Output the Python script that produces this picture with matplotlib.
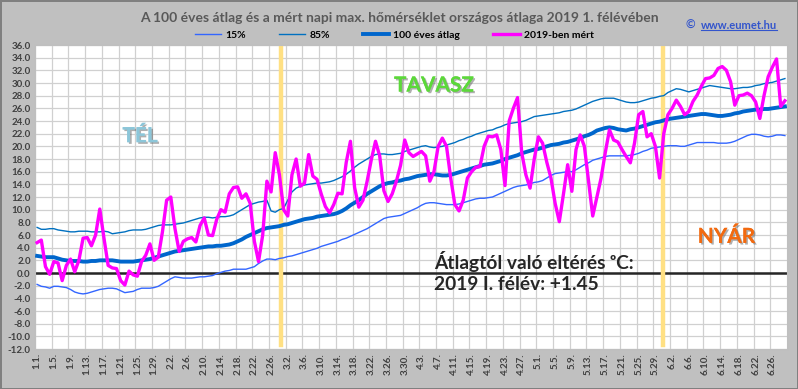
import pandas as pd
import matplotlib
matplotlib.use("Agg")
import matplotlib.pyplot as plt
import matplotlib.patheffects as pe

# daily values, 2019-01-01 .. 2019-06-29
days = pd.date_range("2019-01-01", periods=180, freq="D")
day_labels = [f"{d.month}.{d.day}." for d in days]

p15 = [
    -1.8, -2.1, -2.2, -2.4, -2.1, -2.1, -2.2, -2.3, -2.6, -3.0,
    -3.2, -3.3, -3.2, -3.0, -2.8, -2.6, -2.5, -2.4, -2.4, -2.5,
    -2.8, -3.1, -3.0, -2.9, -2.6, -2.4, -2.4, -2.4, -2.3, -2.1,
    -1.7, -1.3, -0.9, -0.6, -0.7, -0.8, -0.8, -0.8, -0.7, -0.6,
    -0.6, -0.5, -0.4, -0.1, 0.1, 0.3, 0.4, 0.6, 0.6, 0.6,
    0.6, 0.8, 1.0, 1.5, 1.9, 2.2, 2.2, 2.1, 2.3, 2.4,
    2.6, 2.7, 2.9, 3.1, 3.3, 3.5, 3.7, 3.9, 4.2, 4.4,
    4.6, 4.8, 5.0, 5.3, 5.5, 5.8, 6.1, 6.4, 6.7, 7.0,
    7.4, 7.8, 8.2, 8.6, 8.8, 8.9, 9.0, 9.1, 9.4, 9.7,
    10.0, 10.3, 10.7, 11.0, 11.1, 11.1, 11.0, 10.9, 10.8, 10.8,
    10.8, 10.9, 11.1, 11.3, 11.5, 11.7, 11.8, 11.8, 11.9, 12.0,
    12.3, 12.6, 12.9, 13.2, 13.5, 13.7, 13.8, 13.9, 14.1, 14.3,
    14.4, 14.6, 15.0, 15.4, 15.7, 15.8, 15.9, 16.0, 16.0, 16.3,
    16.7, 17.1, 17.4, 17.8, 18.0, 18.2, 18.4, 18.5, 18.5, 18.5,
    18.5, 18.5, 18.6, 18.7, 18.9, 19.2, 19.4, 19.7, 19.8, 19.9,
    20.0, 20.1, 20.1, 20.1, 20.0, 20.0, 20.2, 20.4, 20.6, 20.6,
    20.6, 20.6, 20.6, 20.5, 20.5, 20.5, 20.6, 20.8, 21.1, 21.4,
    21.7, 21.9, 21.9, 21.8, 21.6, 21.5, 21.6, 21.8, 21.8, 21.7,
]

p85 = [
    7.2, 6.9, 6.9, 7.0, 7.0, 6.8, 6.7, 6.6, 6.5, 6.5,
    6.6, 6.6, 6.6, 6.5, 6.5, 6.5, 6.6, 6.5, 6.2, 6.3,
    6.4, 6.5, 6.7, 6.8, 6.8, 6.8, 6.9, 7.1, 7.3, 7.5,
    7.6, 7.6, 7.6, 7.7, 7.8, 7.9, 8.1, 8.3, 8.5, 8.7,
    8.8, 8.8, 8.7, 8.8, 8.9, 8.9, 9.0, 9.2, 9.6, 10.0,
    10.4, 10.8, 11.0, 11.2, 11.3, 11.5, 9.8, 9.6, 10.0, 10.2,
    11.5, 12.8, 13.4, 13.7, 13.9, 14.0, 14.1, 14.2, 14.2, 14.3,
    14.4, 14.6, 14.9, 15.2, 15.6, 16.1, 16.7, 17.2, 17.6, 18.0,
    18.4, 18.7, 18.8, 18.8, 18.7, 18.7, 18.8, 18.9, 19.2, 19.4,
    19.6, 19.8, 20.0, 20.1, 19.9, 19.8, 19.9, 20.0, 20.2, 20.4,
    20.6, 20.9, 21.1, 21.4, 21.6, 21.9, 22.1, 22.3, 22.5, 22.6,
    22.9, 23.1, 23.4, 23.6, 23.7, 23.8, 23.9, 24.1, 24.4, 24.7,
    24.8, 24.9, 25.0, 25.1, 25.2, 25.3, 25.5, 25.6, 25.7, 25.9,
    26.2, 26.5, 26.8, 27.1, 27.3, 27.5, 27.6, 27.6, 27.6, 27.4,
    27.2, 27.0, 26.9, 26.9, 27.0, 27.2, 27.4, 27.6, 27.7, 27.9,
    28.0, 28.5, 28.8, 29.1, 29.0, 28.8, 28.6, 28.8, 29.0, 29.2,
    29.4, 29.6, 29.5, 29.4, 29.3, 29.2, 29.1, 29.1, 29.2, 29.3,
    29.3, 29.4, 29.6, 29.7, 29.9, 30.0, 30.1, 30.3, 30.5, 30.7,
]

avg100 = [
    2.7, 2.6, 2.5, 2.5, 2.5, 2.3, 2.1, 2.0, 1.9, 1.9,
    1.9, 1.8, 1.8, 1.9, 1.9, 2.0, 2.0, 2.0, 2.0, 1.9,
    1.8, 1.8, 1.8, 1.8, 1.9, 2.0, 2.1, 2.2, 2.4, 2.6,
    2.8, 3.0, 3.2, 3.4, 3.5, 3.6, 3.7, 3.8, 3.9, 4.0,
    4.1, 4.2, 4.2, 4.3, 4.3, 4.4, 4.5, 4.7, 5.0, 5.3,
    5.7, 6.0, 6.3, 6.6, 6.9, 7.1, 7.2, 7.3, 7.4, 7.6,
    7.7, 7.9, 8.1, 8.3, 8.5, 8.6, 8.7, 8.9, 9.0, 9.1,
    9.2, 9.3, 9.5, 9.8, 10.2, 10.7, 11.1, 11.5, 12.0, 12.5,
    12.9, 13.3, 13.7, 14.0, 14.2, 14.3, 14.5, 14.6, 14.8, 14.9,
    15.1, 15.3, 15.4, 15.5, 15.6, 15.6, 15.5, 15.4, 15.4, 15.5,
    15.7, 15.9, 16.1, 16.3, 16.5, 16.7, 16.9, 17.1, 17.2, 17.3,
    17.5, 17.7, 18.0, 18.2, 18.4, 18.6, 18.9, 19.1, 19.3, 19.5,
    19.6, 19.8, 20.0, 20.2, 20.3, 20.4, 20.6, 20.7, 20.9, 21.1,
    21.3, 21.6, 21.8, 22.1, 22.5, 22.7, 22.9, 23.0, 22.9, 22.7,
    22.6, 22.5, 22.7, 22.8, 23.0, 23.2, 23.4, 23.6, 23.8, 23.9,
    24.1, 24.3, 24.4, 24.5, 24.6, 24.7, 24.8, 24.9, 25.0, 25.1,
    25.1, 25.0, 24.9, 24.8, 24.8, 24.9, 25.0, 25.2, 25.3, 25.5,
    25.6, 25.7, 25.8, 25.8, 25.9, 25.9, 26.0, 26.1, 26.2, 26.3,
]

measured_2019 = [
    4.8, 5.2, 1.0, -0.2, 1.8, 1.6, -1.2, 1.2, 2.2, 0.2,
    2.0, 5.5, 5.6, 4.3, 6.0, 10.1, 5.5, 1.2, 0.8, 0.7,
    -1.2, -1.9, 0.3, -0.3, -0.5, 1.8, 2.8, 4.6, 2.0, 2.5,
    6.5, 11.5, 12.0, 7.0, 3.4, 5.0, 5.4, 5.6, 4.9, 7.5,
    8.7, 6.0, 5.9, 8.5, 10.0, 9.6, 12.5, 13.5, 13.6, 11.8,
    12.5, 11.0, 5.0, 1.8, 6.0, 14.5, 12.8, 19.0, 15.5, 10.0,
    9.0, 15.5, 18.0, 13.7, 14.2, 18.7, 15.3, 14.8, 12.5, 10.5,
    9.5, 10.8, 12.6, 12.5, 17.5, 20.8, 13.5, 10.4, 11.5, 14.5,
    17.9, 20.8, 18.5, 13.0, 11.3, 12.5, 14.5, 17.0, 21.0, 19.0,
    18.4, 18.8, 19.2, 18.5, 14.5, 16.0, 20.0, 21.3, 20.0, 15.0,
    10.8, 9.8, 11.5, 15.0, 16.0, 16.7, 16.8, 20.0, 21.6, 21.5,
    21.8, 19.5, 13.8, 24.0, 26.0, 27.7, 19.0, 15.5, 13.4, 18.0,
    21.5, 20.5, 17.5, 15.0, 11.0, 8.1, 12.5, 17.1, 12.9, 19.5,
    21.8, 20.0, 14.5, 9.0, 12.0, 15.0, 19.0, 22.6, 21.0, 20.7,
    19.5, 18.4, 17.4, 20.5, 25.0, 25.5, 21.5, 22.0, 20.0, 15.0,
    22.0, 25.0, 26.0, 27.3, 26.3, 25.0, 25.5, 27.1, 28.1, 29.5,
    30.7, 30.8, 31.2, 32.3, 32.6, 32.0, 30.2, 26.5, 28.0, 28.1,
    28.4, 28.0, 27.0, 24.4, 28.0, 31.0, 32.5, 33.8, 26.3, 27.2,
]

FONT = ["Lato", "DejaVu Sans"]
plt.rcParams["font.family"] = FONT

fig = plt.figure(figsize=(7.98, 3.89), dpi=100, facecolor="#C0C0C0",
                 edgecolor="#808080", linewidth=2)
ax = fig.add_axes([0.0439, 0.1028, 0.9423, 0.7815])
ax.set_facecolor("white")

x = list(range(len(days)))

ax.plot(x, p15, color="#3366FF", lw=1.0, label="15%", zorder=3)
ax.plot(x, p85, color="#0070C0", lw=1.0, label="85%", zorder=3)
ax.plot(x, avg100, color="#0066CC", lw=2.8, label="100 éves átlag", zorder=4,
        solid_joinstyle="round")
ax.plot(x, measured_2019, color="#FF00FF", lw=2.4, label="2019-ben mért",
        zorder=5, solid_joinstyle="round")

ax.axhline(0, color="#262626", lw=1.8, zorder=2)
for pos in (58.3, 149.9):
    ax.axvline(pos, ymin=0.012, ymax=1.0, color="#FFE083", lw=3.2, zorder=2)

ax.set_xlim(-0.5, len(days) - 0.5)
ax.set_ylim(-12, 36)
ax.set_yticks(range(-12, 37, 2))
ax.set_yticklabels([f"{v:.1f}" for v in range(-12, 37, 2)])
ax.set_xticks(x[::4])
ax.set_xticklabels(day_labels[::4], rotation=90)
ax.set_xticks([i - 0.5 for i in x[::4]], minor=True)
ax.tick_params(axis="both", which="both", length=0, labelsize=7,
               labelcolor="#404040", pad=3)
for lab in ax.get_xticklabels() + ax.get_yticklabels():
    lab.set_fontweight("bold")
ax.grid(axis="y", which="major", color="#D0D0D0", lw=0.9)
ax.grid(axis="x", which="minor", color="#D0D0D0", lw=0.9)
ax.set_axisbelow(True)
for sp in ax.spines.values():
    sp.set_color("#BFBFBF")

fig.text(0.5, 0.955,
         "A 100 éves átlag és a mért napi max. hőmérséklet országos átlaga 2019 1. félévében",
         ha="center", va="center", fontsize=10, fontweight="bold", color="#595959")
fig.text(0.86, 0.935, "© ", ha="left", va="center", fontsize=8.5,
         fontweight="bold", color="#3355CC")
url = fig.text(0.878, 0.935, "www.eumet.hu", ha="left", va="center", fontsize=8,
               fontweight="bold", color="#3355CC")
# underline the link text
fig.canvas.draw()
bb = url.get_window_extent().transformed(fig.transFigure.inverted())
fig.add_artist(plt.Line2D([bb.x0, bb.x1], [bb.y0 + 0.002, bb.y0 + 0.002],
                          color="#3355CC", lw=0.8))

fig.legend(loc="center", bbox_to_anchor=(0.494, 0.91), ncol=4, frameon=False,
           handlelength=2.5, columnspacing=3.2, handletextpad=0.4,
           prop={"weight": "bold", "size": 7.5, "family": FONT})

shadow = [pe.withSimplePatchShadow(offset=(1.2, -1.2), shadow_rgbFace="#606060",
                                   alpha=0.5), pe.Normal()]
ax.text(24.6, 21.6, "TÉL", ha="center", va="center", fontsize=15,
        fontweight="bold", color="#8CC6D9", path_effects=shadow)
ax.text(95.0, 29.6, "TAVASZ", ha="center", va="center", fontsize=15,
        fontweight="bold", color="#5CD83A", path_effects=shadow)
ax.text(165.0, 5.7, "NYÁR", ha="center", va="center", fontsize=15,
        fontweight="bold", color="#F26A10", path_effects=shadow)
ax.text(95, 1.8, "Átlagtól való eltérés ᵒC:", ha="left", va="center",
        fontsize=13.8, fontweight="bold", color="#262626")
ax.text(95, -1.8, "2019 I. félév: +1.45", ha="left", va="center",
        fontsize=13.8, fontweight="bold", color="#262626")

fig.savefig("out.png", dpi=100, facecolor=fig.get_facecolor(),
            edgecolor=fig.get_edgecolor())
